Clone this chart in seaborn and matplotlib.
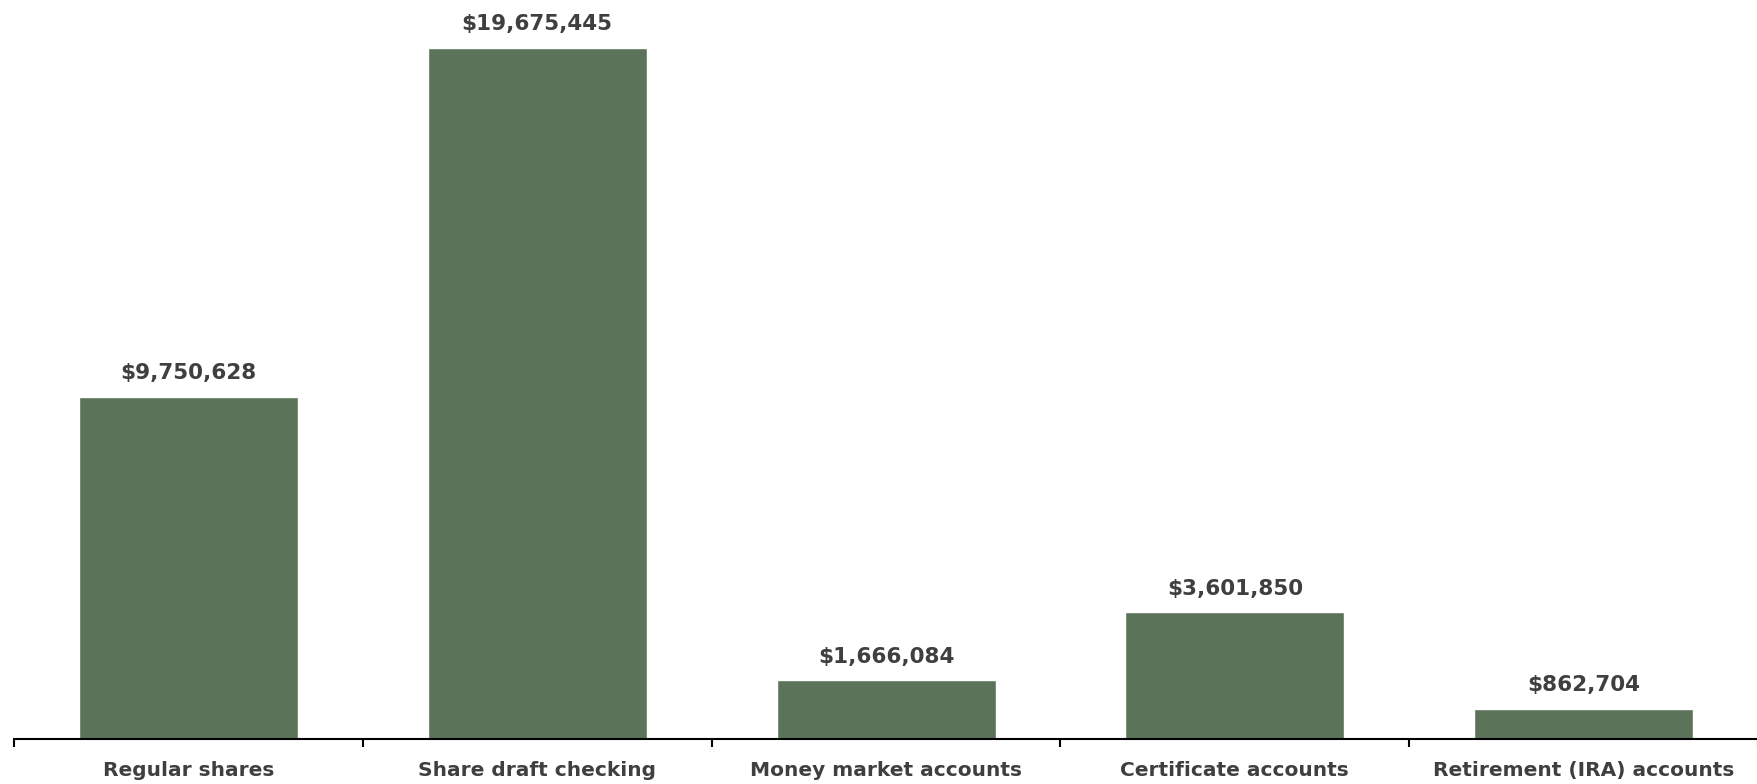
import matplotlib
matplotlib.use("Agg")
import matplotlib.pyplot as plt
import seaborn as sns
import pandas as pd

categories = ["Regular shares", "Share draft checking", "Money market accounts",
              "Certificate accounts", "Retirement (IRA) accounts"]
balances = [9750628, 19675445, 1666084, 3601850, 862704]

df = pd.DataFrame({"category": categories, "balance": balances})

sns.set_theme(style="white")
plt.rcParams["font.family"] = ["DejaVu Sans"]

bar_color = "#5a7359"
text_color = "#3f3f3f"

fig = plt.figure(figsize=(17.58, 7.84), dpi=100)
ax = fig.add_axes([0.008, 0.0574, 0.992, 0.9426])

sns.barplot(data=df, x="category", y="balance", color=bar_color,
            width=0.628, saturation=1, ax=ax)

ax.set_xlim(-0.5, len(categories) - 0.5)
ax.set_ylim(0, 21.04e6)

for i, v in enumerate(balances):
    ax.annotate(f"${v:,}", (i, v), xytext=(0, 10), textcoords="offset points",
                ha="center", va="bottom", fontsize=15.5, fontweight="bold",
                color=text_color)

# boundary ticks between categories, labels centred under each bar
ax.set_xticks([i - 0.5 for i in range(len(categories) + 1)])
ax.set_xticklabels([])
ax.set_xticks(range(len(categories)), minor=True)
ax.set_xticklabels(categories, minor=True, fontsize=14.5, fontweight="bold",
                   color=text_color)
ax.tick_params(axis="x", which="major", length=6, width=1.5, color="black",
               direction="out", bottom=True)
ax.tick_params(axis="x", which="minor", length=0, pad=16, bottom=True)

ax.set_yticks([])
ax.set_xlabel("")
ax.set_ylabel("")
for side in ["top", "right", "left"]:
    ax.spines[side].set_visible(False)
ax.spines["bottom"].set_color("black")
ax.spines["bottom"].set_linewidth(1.5)

fig.savefig("out.png", dpi=100)
